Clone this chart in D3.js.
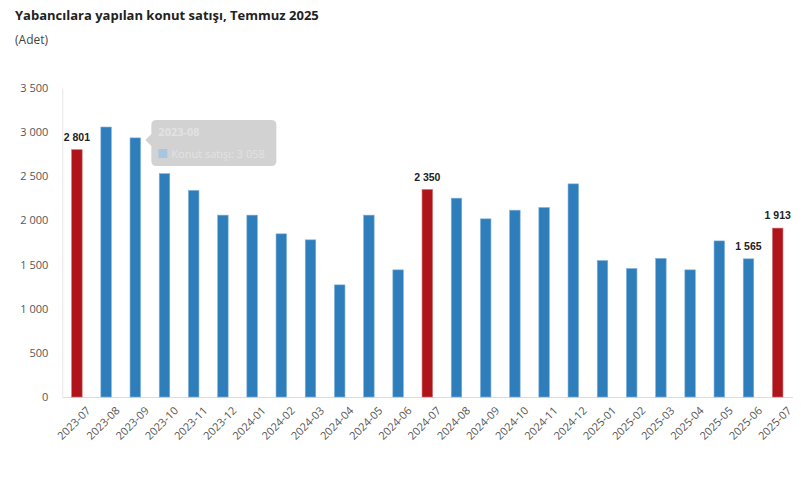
<!DOCTYPE html>
<html><head><meta charset="utf-8">
<script src="https://cdn.jsdelivr.net/npm/d3@7"></script>
<style>
html,body{margin:0;padding:0;background:#fff;}
svg{display:block;font-family:"Open Sans","Noto Sans",sans-serif;}
</style></head>
<body><svg id="chart" width="801" height="478"></svg>
<script>
const categories = ["2023-07","2023-08","2023-09","2023-10","2023-11","2023-12","2024-01","2024-02","2024-03","2024-04","2024-05","2024-06","2024-07","2024-08","2024-09","2024-10","2024-11","2024-12","2025-01","2025-02","2025-03","2025-04","2025-05","2025-06","2025-07"];
const values = [2801,3058,2935,2530,2340,2060,2060,1848,1780,1270,2060,1440,2350,2252,2018,2116,2146,2414,1545,1455,1570,1440,1768,1565,1913];
const highlighted = ["2023-07","2024-07","2025-07"];
const labelled = ["2023-07","2024-07","2025-06","2025-07"];
const yTicks = [0,500,1000,1500,2000,2500,3000,3500];
const title = "Yabancılara yapılan konut satışı, Temmuz 2025";
const subtitle = "(Adet)";
const seriesName = "Konut satışı";
const tooltipCategory = "2023-08";

const fmt = v => d3.format(",")(v).replace(/,/g, " ");
const svg = d3.select("#chart");
const mLeft = 62.3, mRight = 792.3, mTop = 88, mBottom = 397;

const x = d3.scaleBand().domain(categories).range([mLeft, mRight]).paddingInner(0.64).paddingOuter(0.32);
const y = d3.scaleLinear().domain([0, 3500]).range([mBottom, mTop]);

svg.append("text").attr("x", 15).attr("y", 20).attr("font-size", 13).attr("font-weight", "bold").attr("fill", "#222").text(title);
svg.append("text").attr("x", 15).attr("y", 44).attr("font-size", 12).attr("fill", "#444").text(subtitle);

// y axis
const yAxis = svg.append("g").attr("transform", `translate(${mLeft},0)`)
  .call(d3.axisLeft(y).tickValues(yTicks).tickFormat(fmt).tickSize(0).tickPadding(14));
yAxis.select(".domain").attr("stroke", "#e6e6e6");
yAxis.selectAll("text").attr("font-size", 11).attr("fill", "#555").attr("font-family", "Open Sans, sans-serif");

// x axis
const xAxis = svg.append("g").attr("transform", `translate(0,${mBottom})`)
  .call(d3.axisBottom(x).tickSize(0).tickPadding(8));
xAxis.select(".domain").attr("stroke", "#dcdcdc");
xAxis.selectAll("text").attr("font-size", 11).attr("fill", "#555").attr("font-family", "Open Sans, sans-serif")
  .attr("text-anchor", "end").attr("dy", "0.35em")
  .attr("transform", function(){ return "translate(6,6) rotate(-45)"; });

// bars
svg.append("g").selectAll("rect").data(categories).join("rect")
  .attr("x", d => x(d)).attr("width", x.bandwidth())
  .attr("y", (d,i) => y(values[i])).attr("height", (d,i) => mBottom - y(values[i]))
  .attr("fill", d => highlighted.includes(d) ? "#ae1419" : "#2f7ebc")
  .attr("stroke", d => highlighted.includes(d) ? "#cf6b6e" : "#7fb0dc").attr("stroke-width", 0.6);

// data labels
svg.append("g").selectAll("text").data(categories.filter(c => labelled.includes(c))).join("text")
  .attr("x", d => x(d) + x.bandwidth()/2)
  .attr("y", d => y(values[categories.indexOf(d)]) - 9)
  .attr("text-anchor", "middle").attr("font-size", 10.5).attr("font-weight", "bold").attr("fill", "#222")
  .attr("font-family", "Liberation Sans, Arial, sans-serif")
  .text(d => fmt(values[categories.indexOf(d)]));

// tooltip
const ti = categories.indexOf(tooltipCategory);
const tx = x(tooltipCategory) + x.bandwidth() + 40, ty = 120;
const tg = svg.append("g").attr("transform", `translate(${tx},${ty})`);
tg.append("path")
  .attr("d", "M5,0 H120 Q125,0 125,5 V41 Q125,46 120,46 H5 Q0,46 0,41 V26 L-6,20 L0,14 V5 Q0,0 5,0 Z")
  .attr("fill", "#cdcdcd").attr("opacity", 0.9);
tg.append("text").attr("x", 7).attr("y", 16).attr("font-size", 11).attr("font-weight", "bold").attr("fill", "#e2e2e2").text(tooltipCategory);
tg.append("rect").attr("x", 7).attr("y", 29).attr("width", 9).attr("height", 9).attr("fill", "#a8c6df");
tg.append("text").attr("x", 20).attr("y", 38).attr("font-size", 11).attr("fill", "#e2e2e2").text(`${seriesName}: ${fmt(values[ti])}`);
</script></body></html>
